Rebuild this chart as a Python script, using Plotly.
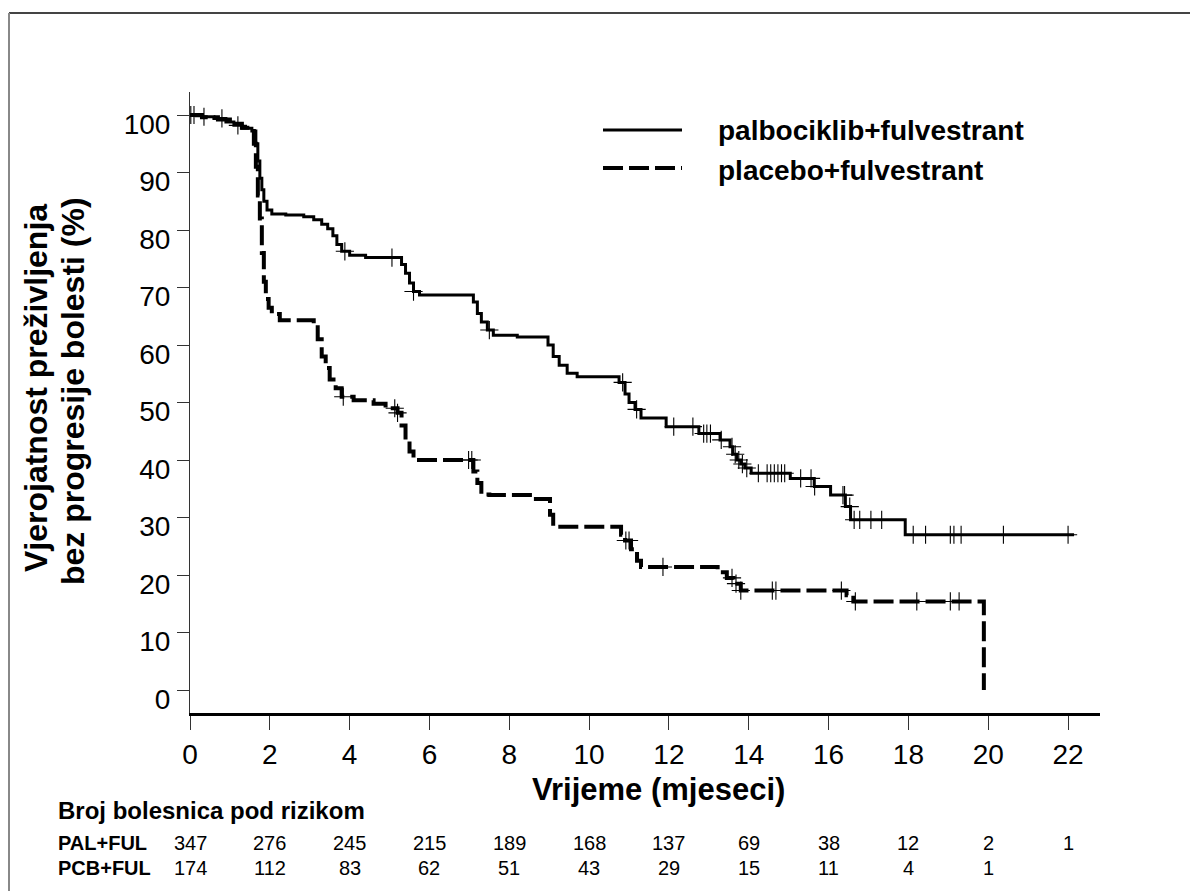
import numpy as np
import plotly.graph_objects as go

# ---------------- data ----------------
pal_t = [0, 0.3, 0.6, 0.9, 1.1, 1.3, 1.55, 1.65, 1.7, 1.75, 1.8, 1.85, 1.93, 2.05, 2.4, 2.85, 3.1, 3.3,
         3.45, 3.58, 3.68, 3.8, 4.0, 4.4, 5.3, 5.4, 5.5, 5.6, 5.75, 7.1, 7.2, 7.3, 7.45, 7.6, 8.2, 8.97,
         9.1, 9.25, 9.45, 9.7, 10.75, 10.9, 11.0, 11.15, 11.3, 11.93, 12.75, 13.28, 13.53, 13.6, 13.7,
         13.8, 13.9, 14.06, 15.04, 15.64, 16.05, 16.42, 16.55, 17.92, 22.15]
pal_s = [100, 99.7, 99.4, 98.8, 98.2, 97.7, 97.2, 95, 92, 89, 87, 85, 83.5, 82.8, 82.6, 82.3, 81.8, 81,
         80.2, 79, 77.5, 76.3, 75.6, 75.2, 74, 72.5, 70.8, 69.3, 68.7, 67.5, 65.5, 64, 62.6, 61.7, 61.4, 60,
         58, 56.5, 55.1, 54.5, 53.5, 51.5, 50, 48.8, 47.3, 45.8, 44.6, 43.5, 42.3, 41, 40,
         39.3, 38.6, 37.7, 36.8, 35.4, 33.9, 31.9, 29.6, 27.0, 27.0]
pal_cens = [0.02, 0.35, 0.8, 1.2, 3.88, 5.06, 5.6, 7.5, 10.84, 11.19, 12.12, 12.6, 12.87, 12.95, 13.04,
            13.31, 13.58, 13.66, 13.75, 13.84, 13.95, 14.24, 14.46, 14.55, 14.64, 14.73, 14.82, 14.9,
            15.3, 15.56, 15.65, 16.36, 16.4, 16.53, 16.64, 16.78, 17.06, 17.33, 18.12, 18.43, 19.05,
            19.14, 19.32, 20.38, 22.0]

pcb_t = [0, 0.3, 0.7, 1.0, 1.3, 1.55, 1.6, 1.65, 1.7, 1.75, 1.8, 1.85, 1.9, 1.97, 2.05, 2.25, 3.1, 3.2,
         3.3, 3.4, 3.5, 3.65, 3.8, 4.1, 4.6, 4.9, 5.2, 5.3, 5.4, 5.5, 5.6, 7.1, 7.2, 7.3, 7.5, 8.6, 9.02,
         9.1, 10.8, 10.9, 11.05, 11.2, 11.3, 13.22, 13.45, 13.62, 13.8, 16.45, 16.62, 19.89]
pcb_s = [100, 99.6, 99.2, 98.5, 97.8, 97.2, 95, 91, 86, 82, 76, 71, 68, 66.5, 65.4, 64.3, 63.5, 61,
         58, 56, 54, 52.5, 51.0, 50.4, 49.8, 49.0, 48.2, 46, 43.5, 41.5, 40.0, 38, 36, 34, 33.9, 33.2, 30.5,
         28.4, 27, 26, 24.5, 22.5, 21.4, 20.5, 19.5, 18.5, 17.3, 16.5, 15.4, 0]
pcb_cens = [0.1, 3.84, 5.13, 5.2, 6.98, 7.06, 10.92, 11.0, 11.85, 13.58, 13.68, 13.8, 14.59, 14.68,
            16.32, 16.67, 18.21, 19.05, 19.27]

x_ticks = [0, 2, 4, 6, 8, 10, 12, 14, 16, 18, 20, 22]
y_ticks = [0, 10, 20, 30, 40, 50, 60, 70, 80, 90, 100]
pal_risk = [347, 276, 245, 215, 189, 168, 137, 69, 38, 12, 2, 1]
pcb_risk = [174, 112, 83, 62, 51, 43, 29, 15, 11, 4, 1]

pal_name = "palbociklib+fulvestrant"
pcb_name = "placebo+fulvestrant"
x_title = "Vrijeme (mjeseci)"
y_title1 = "Vjerojatnost preživljenja"
y_title2 = "bez progresije bolesti (%)"
risk_title = "Broj bolesnica pod rizikom"
pal_lab = "PAL+FUL"
pcb_lab = "PCB+FUL"

FONT = "Liberation Sans, Arial, sans-serif"

# ---------------- geometry (pixels) ----------------
W, H = 1190, 891
L, R, T, B = 190, 1100, 92, 713
PW, PH = R - L, B - T


def px(xp):
    return (xp - L) / PW


def py(yp):
    return (B - yp) / PH


def step_at(ts, ss, c):
    i = np.searchsorted(np.asarray(ts), c, side="right") - 1
    return np.asarray(ss)[max(i, 0)]


fig = go.Figure()
fig.add_trace(go.Scatter(x=pal_t, y=pal_s, mode="lines", line=dict(color="black", width=3, shape="hv"),
                         name=pal_name, showlegend=False, hoverinfo="skip"))
fig.add_trace(go.Scatter(x=pcb_t, y=pcb_s, mode="lines",
                         line=dict(color="black", width=4, shape="hv", dash="20px,6px"),
                         name=pcb_name, showlegend=False, hoverinfo="skip"))
fig.add_trace(go.Scatter(x=pal_cens, y=[step_at(pal_t, pal_s, c) for c in pal_cens], mode="markers",
                         marker=dict(symbol="cross-thin", size=13, line=dict(color="black", width=1.1)),
                         showlegend=False))
fig.add_trace(go.Scatter(x=pcb_cens, y=[step_at(pcb_t, pcb_s, c) for c in pcb_cens], mode="markers",
                         marker=dict(symbol="cross-thin", size=13, line=dict(color="black", width=1.1)),
                         showlegend=False))

RISK_FS = 20
ROW1, ROW2 = 843, 868

ann = []
# legend
ann.append(dict(xref="paper", yref="paper", x=px(716), y=py(130), text=f"<b>{pal_name}</b>",
                showarrow=False, xanchor="left", yanchor="middle", font=dict(size=28, color="black", family=FONT)))
ann.append(dict(xref="paper", yref="paper", x=px(716), y=py(170), text=f"<b>{pcb_name}</b>",
                showarrow=False, xanchor="left", yanchor="middle", font=dict(size=28, color="black", family=FONT)))
# axis titles
ann.append(dict(xref="paper", yref="paper", x=px(658), y=py(789), text=f"<b>{x_title}</b>",
                showarrow=False, xanchor="center", yanchor="middle", font=dict(size=31, color="black", family=FONT)))
ann.append(dict(xref="paper", yref="paper", x=px(36), y=py(388), text=f"<b>{y_title1}</b>", textangle=-90,
                showarrow=False, xanchor="center", yanchor="middle", font=dict(size=32, color="black", family=FONT)))
ann.append(dict(xref="paper", yref="paper", x=px(73), y=py(391), text=f"<b>{y_title2}</b>", textangle=-90,
                showarrow=False, xanchor="center", yanchor="middle", font=dict(size=32, color="black", family=FONT)))
# risk table
ann.append(dict(xref="paper", yref="paper", x=px(56), y=py(810), text=f"<b>{risk_title}</b>",
                showarrow=False, xanchor="left", yanchor="middle", font=dict(size=24, color="black", family=FONT)))
ann.append(dict(xref="paper", yref="paper", x=px(56), y=py(ROW1), text=f"<b>{pal_lab}</b>",
                showarrow=False, xanchor="left", yanchor="middle", font=dict(size=RISK_FS, color="black", family=FONT)))
ann.append(dict(xref="paper", yref="paper", x=px(56), y=py(ROW2), text=f"<b>{pcb_lab}</b>",
                showarrow=False, xanchor="left", yanchor="middle", font=dict(size=RISK_FS, color="black", family=FONT)))
for xv, n in zip(x_ticks, pal_risk):
    ann.append(dict(xref="x", yref="paper", x=xv, y=py(ROW1), text=str(n), showarrow=False,
                    xanchor="center", yanchor="middle", font=dict(size=RISK_FS, color="black", family=FONT)))
for xv, n in zip(x_ticks, pcb_risk):
    ann.append(dict(xref="x", yref="paper", x=xv, y=py(ROW2), text=str(n), showarrow=False,
                    xanchor="center", yanchor="middle", font=dict(size=RISK_FS, color="black", family=FONT)))

shapes = [
    # legend samples
    dict(type="line", xref="paper", yref="paper", x0=px(603), x1=px(682), y0=py(130), y1=py(130),
         line=dict(color="black", width=3)),
    dict(type="line", xref="paper", yref="paper", x0=px(603), x1=px(682), y0=py(168), y1=py(168),
         line=dict(color="black", width=4, dash="20px,6px")),
    # page frame
    dict(type="line", xref="paper", yref="paper", x0=px(9), x1=px(1192), y0=py(13), y1=py(13),
         line=dict(color="#444444", width=2)),
    dict(type="line", xref="paper", yref="paper", x0=px(9), x1=px(9), y0=py(13), y1=py(895),
         line=dict(color="#888888", width=2)),
]

fig.update_layout(
    width=W, height=H,
    margin=dict(l=L, r=W - R, t=T, b=H - B, pad=0),
    paper_bgcolor="white", plot_bgcolor="white",
    font=dict(family=FONT, color="black"),
    showlegend=False,
    annotations=ann, shapes=shapes,
    xaxis=dict(range=[0, 22.8], tickvals=x_ticks, ticktext=[str(v) for v in x_ticks],
               ticks="outside", ticklen=14, tickwidth=1, tickcolor="#333333",
               showline=True, linewidth=2.5, linecolor="black", showgrid=False, zeroline=False,
               tickfont=dict(size=28, color="black", family=FONT), ticklabelstandoff=1),
    yaxis=dict(range=[-4, 104], tickvals=y_ticks, ticktext=[str(v) for v in y_ticks],
               ticks="outside", ticklen=12, tickwidth=1, tickcolor="#333333",
               showline=True, linewidth=1, linecolor="#333333", showgrid=False, zeroline=False,
               tickfont=dict(size=28, color="black", family=FONT), ticklabelshift=9,
               ticklabelstandoff=1),
)

fig.write_html("out.html")
